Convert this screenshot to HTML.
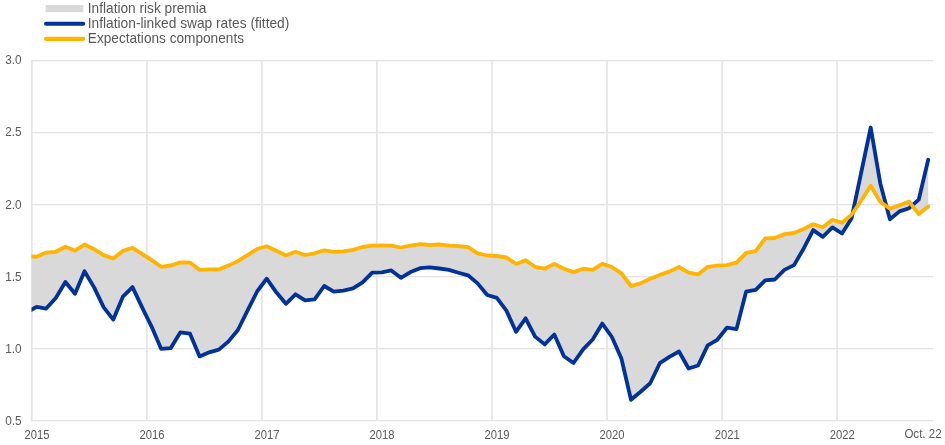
<!DOCTYPE html>
<html><head><meta charset="utf-8"><title>Chart</title>
<style>
html,body{margin:0;padding:0;background:#fff;}
svg{display:block;font-family:"Liberation Sans",Arial,sans-serif;}
.ax text{font-size:12.6px;fill:#585858;}
.lg text{font-size:14.5px;fill:#585858;}
</style></head><body>
<svg width="945" height="445" viewBox="0 0 945 445">
<defs><clipPath id="c"><rect x="31.5" y="50" width="905" height="372"/></clipPath></defs>
<rect width="945" height="445" fill="#fff"/>
<g stroke="#e2e2e2" stroke-width="1.3" fill="none"><line x1="31" x2="933" y1="60.7" y2="60.7"/><line x1="31" x2="933" y1="132.7" y2="132.7"/><line x1="31" x2="933" y1="204.7" y2="204.7"/><line x1="31" x2="933" y1="276.7" y2="276.7"/><line x1="31" x2="933" y1="348.7" y2="348.7"/><line x1="31" x2="933" y1="420.7" y2="420.7"/></g>
<g stroke="#e4e4e4" stroke-width="1.7" fill="none"><line x1="31.8" x2="31.8" y1="60" y2="421"/><line x1="146.8" x2="146.8" y1="60" y2="421"/><line x1="261.9" x2="261.9" y1="60" y2="421"/><line x1="376.9" x2="376.9" y1="60" y2="421"/><line x1="492.0" x2="492.0" y1="60" y2="421"/><line x1="607.0" x2="607.0" y1="60" y2="421"/><line x1="722.1" x2="722.1" y1="60" y2="421"/><line x1="837.1" x2="837.1" y1="60" y2="421"/></g>
<g clip-path="url(#c)">
<polygon points="27.0,255.8 36.6,256.8 46.2,252.6 55.8,251.8 65.4,246.7 75.0,250.7 84.5,244.5 94.1,249.2 103.7,255.1 113.3,258.5 122.9,250.9 132.5,247.9 142.1,253.8 151.7,260.2 161.2,266.8 170.8,265.5 180.4,262.4 190.0,262.6 199.6,269.9 209.2,269.4 218.8,269.4 228.3,265.6 237.9,261.1 247.5,255.1 257.1,249.0 266.7,246.2 276.3,250.7 285.9,255.5 295.5,251.8 305.1,255.0 314.6,253.3 324.2,250.4 333.8,251.8 343.4,251.4 353.0,249.9 362.6,247.0 372.2,245.7 381.8,245.5 391.3,245.7 400.9,247.5 410.5,245.7 420.1,244.1 429.7,245.0 439.3,244.5 448.9,245.7 458.5,246.2 468.0,247.0 477.6,253.4 487.2,255.5 496.8,256.0 506.4,257.5 516.0,263.9 525.6,260.2 535.1,266.8 544.7,268.7 554.3,263.9 563.9,268.7 573.5,272.1 583.1,268.7 592.7,269.9 602.3,263.9 611.9,267.0 621.4,273.3 631.0,286.0 640.6,283.4 650.2,278.8 659.8,274.9 669.4,271.6 679.0,267.0 688.6,272.7 698.1,274.4 707.7,266.8 717.3,265.6 726.9,265.1 736.5,262.6 746.1,252.9 755.7,251.2 765.2,238.4 774.8,238.0 784.4,234.2 794.0,233.0 803.6,229.0 813.2,224.2 822.8,227.2 832.4,219.8 842.0,222.8 851.5,214.8 861.1,200.8 870.7,185.8 880.3,201.8 889.9,208.7 899.5,205.2 909.1,201.6 918.7,214.0 928.2,206.5 928.2,159.8 918.7,199.7 909.1,208.2 899.5,211.4 889.9,219.3 880.3,183.4 870.7,127.5 861.1,173.0 851.5,218.6 842.0,233.5 832.4,227.4 822.8,236.9 813.2,230.1 803.6,248.7 794.0,265.1 784.4,269.9 774.8,279.5 765.2,280.4 755.7,289.8 746.1,291.7 736.5,329.1 726.9,327.7 717.3,339.8 707.7,345.4 698.1,365.5 688.6,368.5 679.0,351.5 669.4,356.9 659.8,363.2 650.2,383.3 640.6,391.7 631.0,399.8 621.4,358.5 611.9,337.0 602.3,323.6 592.7,339.5 583.1,349.4 573.5,363.0 563.9,356.2 554.3,334.5 544.7,344.4 535.1,336.6 525.6,318.3 516.0,331.8 506.4,310.6 496.8,297.9 487.2,295.0 477.6,283.4 468.0,275.3 458.5,272.7 448.9,269.9 439.3,268.5 429.7,267.3 420.1,268.2 410.5,272.1 400.9,277.8 391.3,270.4 381.8,272.4 372.2,272.6 362.6,282.3 353.0,288.4 343.4,290.6 333.8,291.7 324.2,286.0 314.6,299.4 305.1,300.4 295.5,294.3 285.9,303.8 276.3,292.3 266.7,278.7 257.1,291.5 247.5,310.6 237.9,330.0 228.3,341.6 218.8,349.6 209.2,352.3 199.6,356.4 190.0,333.7 180.4,332.3 170.8,348.1 161.2,348.9 151.7,326.8 142.1,307.4 132.5,287.1 122.9,296.7 113.3,319.6 103.7,307.4 94.1,287.4 84.5,271.3 75.0,293.8 65.4,282.0 55.8,297.9 46.2,308.6 36.6,306.9 27.0,312.2" fill="#d9d9d9"/>
<polyline points="27.0,312.2 36.6,306.9 46.2,308.6 55.8,297.9 65.4,282.0 75.0,293.8 84.5,271.3 94.1,287.4 103.7,307.4 113.3,319.6 122.9,296.7 132.5,287.1 142.1,307.4 151.7,326.8 161.2,348.9 170.8,348.1 180.4,332.3 190.0,333.7 199.6,356.4 209.2,352.3 218.8,349.6 228.3,341.6 237.9,330.0 247.5,310.6 257.1,291.5 266.7,278.7 276.3,292.3 285.9,303.8 295.5,294.3 305.1,300.4 314.6,299.4 324.2,286.0 333.8,291.7 343.4,290.6 353.0,288.4 362.6,282.3 372.2,272.6 381.8,272.4 391.3,270.4 400.9,277.8 410.5,272.1 420.1,268.2 429.7,267.3 439.3,268.5 448.9,269.9 458.5,272.7 468.0,275.3 477.6,283.4 487.2,295.0 496.8,297.9 506.4,310.6 516.0,331.8 525.6,318.3 535.1,336.6 544.7,344.4 554.3,334.5 563.9,356.2 573.5,363.0 583.1,349.4 592.7,339.5 602.3,323.6 611.9,337.0 621.4,358.5 631.0,399.8 640.6,391.7 650.2,383.3 659.8,363.2 669.4,356.9 679.0,351.5 688.6,368.5 698.1,365.5 707.7,345.4 717.3,339.8 726.9,327.7 736.5,329.1 746.1,291.7 755.7,289.8 765.2,280.4 774.8,279.5 784.4,269.9 794.0,265.1 803.6,248.7 813.2,230.1 822.8,236.9 832.4,227.4 842.0,233.5 851.5,218.6 861.1,173.0 870.7,127.5 880.3,183.4 889.9,219.3 899.5,211.4 909.1,208.2 918.7,199.7 928.2,159.8" fill="none" stroke="#003299" stroke-width="3.8" stroke-linejoin="round" stroke-linecap="round"/>
<polyline points="27.0,255.8 36.6,256.8 46.2,252.6 55.8,251.8 65.4,246.7 75.0,250.7 84.5,244.5 94.1,249.2 103.7,255.1 113.3,258.5 122.9,250.9 132.5,247.9 142.1,253.8 151.7,260.2 161.2,266.8 170.8,265.5 180.4,262.4 190.0,262.6 199.6,269.9 209.2,269.4 218.8,269.4 228.3,265.6 237.9,261.1 247.5,255.1 257.1,249.0 266.7,246.2 276.3,250.7 285.9,255.5 295.5,251.8 305.1,255.0 314.6,253.3 324.2,250.4 333.8,251.8 343.4,251.4 353.0,249.9 362.6,247.0 372.2,245.7 381.8,245.5 391.3,245.7 400.9,247.5 410.5,245.7 420.1,244.1 429.7,245.0 439.3,244.5 448.9,245.7 458.5,246.2 468.0,247.0 477.6,253.4 487.2,255.5 496.8,256.0 506.4,257.5 516.0,263.9 525.6,260.2 535.1,266.8 544.7,268.7 554.3,263.9 563.9,268.7 573.5,272.1 583.1,268.7 592.7,269.9 602.3,263.9 611.9,267.0 621.4,273.3 631.0,286.0 640.6,283.4 650.2,278.8 659.8,274.9 669.4,271.6 679.0,267.0 688.6,272.7 698.1,274.4 707.7,266.8 717.3,265.6 726.9,265.1 736.5,262.6 746.1,252.9 755.7,251.2 765.2,238.4 774.8,238.0 784.4,234.2 794.0,233.0 803.6,229.0 813.2,224.2 822.8,227.2 832.4,219.8 842.0,222.8 851.5,214.8 861.1,200.8 870.7,185.8 880.3,201.8 889.9,208.7 899.5,205.2 909.1,201.6 918.7,214.0 928.2,206.5" fill="none" stroke="#ffb400" stroke-width="3.8" stroke-linejoin="round" stroke-linecap="round"/>
</g>
<g class="ax"><text x="5.2" y="64.1" textLength="16.4" lengthAdjust="spacingAndGlyphs">3.0</text><text x="5.2" y="136.1" textLength="16.4" lengthAdjust="spacingAndGlyphs">2.5</text><text x="5.2" y="209.0" textLength="16.4" lengthAdjust="spacingAndGlyphs">2.0</text><text x="5.2" y="281.0" textLength="16.4" lengthAdjust="spacingAndGlyphs">1.5</text><text x="5.2" y="353.0" textLength="16.4" lengthAdjust="spacingAndGlyphs">1.0</text><text x="5.2" y="425.0" textLength="16.4" lengthAdjust="spacingAndGlyphs">0.5</text><text x="24.4" y="439" textLength="25" lengthAdjust="spacingAndGlyphs">2015</text><text x="139.4" y="439" textLength="25" lengthAdjust="spacingAndGlyphs">2016</text><text x="254.5" y="439" textLength="25" lengthAdjust="spacingAndGlyphs">2017</text><text x="369.6" y="439" textLength="25" lengthAdjust="spacingAndGlyphs">2018</text><text x="484.6" y="439" textLength="25" lengthAdjust="spacingAndGlyphs">2019</text><text x="599.6" y="439" textLength="25" lengthAdjust="spacingAndGlyphs">2020</text><text x="714.7" y="439" textLength="25" lengthAdjust="spacingAndGlyphs">2021</text><text x="829.8" y="439" textLength="25" lengthAdjust="spacingAndGlyphs">2022</text><text x="904.4" y="438" textLength="37.2" lengthAdjust="spacingAndGlyphs">Oct. 22</text></g>
<g class="lg">
<rect x="45.7" y="5" width="37.6" height="7.2" fill="#d9d9d9"/>
<line x1="46.1" x2="83.2" y1="23.75" y2="23.75" stroke="#003299" stroke-width="4.2" stroke-linecap="round"/>
<line x1="46.1" x2="83.2" y1="38.85" y2="38.85" stroke="#ffb400" stroke-width="4.2" stroke-linecap="round"/>
<text x="87.8" y="13" textLength="118.6" lengthAdjust="spacingAndGlyphs">Inflation risk premia</text>
<text x="87.8" y="28" textLength="201.5" lengthAdjust="spacingAndGlyphs">Inflation-linked swap rates (fitted)</text>
<text x="87.8" y="43" textLength="156.2" lengthAdjust="spacingAndGlyphs">Expectations components</text>
</g>
</svg>
</body></html>
